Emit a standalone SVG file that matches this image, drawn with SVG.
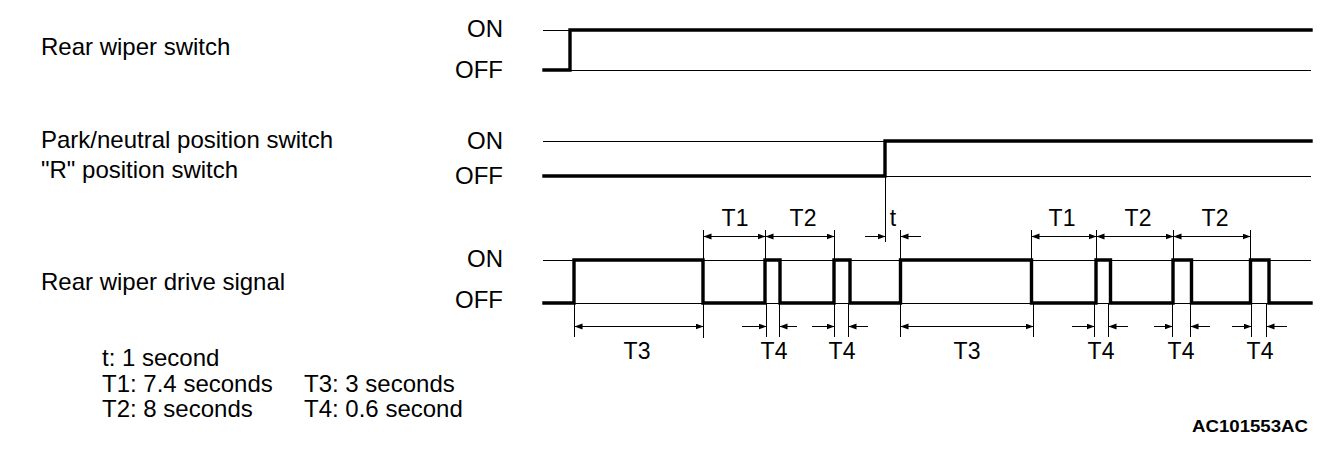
<svg xmlns="http://www.w3.org/2000/svg" width="1344" height="474" viewBox="0 0 1344 474">
<style>
text{font-family:"Liberation Sans",Arial,sans-serif;fill:#000}
.lbl{font-size:24px}
.lv{font-size:24px;text-anchor:end}
.dim{font-size:23px;text-anchor:middle}
.thin{stroke:#000;stroke-width:1;fill:none}
.thick{stroke:#000;stroke-width:3.4;fill:none;stroke-linejoin:miter;stroke-linecap:square}
.arr{stroke:#000;stroke-width:1;fill:none;marker-end:url(#ah)}
.arr2{stroke:#000;stroke-width:1;fill:none;marker-start:url(#ah);marker-end:url(#ah)}
</style>
<defs>
<marker id="ah" markerUnits="userSpaceOnUse" markerWidth="10" markerHeight="8" refX="8" refY="3" orient="auto-start-reverse">
<path d="M0,0 L8,3 L0,6 z" fill="#000"/>
</marker>
</defs>
<rect width="1344" height="474" fill="#fff"/>

<g id="rear-wiper-switch">
<text class="lbl" x="41" y="55">Rear wiper switch</text>
<text class="lv" x="503" y="37">ON</text>
<text class="lv" x="503" y="78">OFF</text>
<line class="thin" x1="543" y1="30.5" x2="1311" y2="30.5"/>
<line class="thin" x1="543" y1="70.5" x2="1311" y2="70.5"/>
<polyline class="thick" points="544,70 570,70 570,30 1311,30"/>
</g>

<g id="park-neutral-switch">
<text class="lbl" x="41" y="148">Park/neutral position switch</text>
<text class="lbl" x="41" y="178">"R" position switch</text>
<text class="lv" x="503" y="149">ON</text>
<text class="lv" x="503" y="184">OFF</text>
<line class="thin" x1="543" y1="141.5" x2="1311" y2="141.5"/>
<line class="thin" x1="543" y1="176.5" x2="1311" y2="176.5"/>
<polyline class="thick" points="544,176 885,176 885,141 1311,141"/>
</g>

<g id="rear-wiper-drive-signal">
<text class="lbl" x="41" y="290">Rear wiper drive signal</text>
<text class="lv" x="503" y="267">ON</text>
<text class="lv" x="503" y="308">OFF</text>
<line class="thin" x1="543" y1="260.5" x2="1311" y2="260.5"/>
<line class="thin" x1="543" y1="303.5" x2="1311" y2="303.5"/>
<polyline class="thick" points="544,303 574,303 574,260 703,260 703,303 765,303 765,260 780,260 780,303 834,303 834,260 850,260 850,303 900.5,303 900.5,260 1031.5,260 1031.5,303 1096,303 1096,260 1110.5,260 1110.5,303 1173,303 1173,260 1191.5,260 1191.5,303 1250.5,303 1250.5,260 1269,260 1269,303 1311,303"/>
</g>

<g id="connectors">
<!-- extension lines -->
<line class="thin" x1="885.5" y1="176" x2="885.5" y2="242"/>
<line class="thin" x1="703.5" y1="230" x2="703.5" y2="260"/>
<line class="thin" x1="765.5" y1="230" x2="765.5" y2="260"/>
<line class="thin" x1="834.5" y1="230" x2="834.5" y2="260"/>
<line class="thin" x1="900.5" y1="230" x2="900.5" y2="337"/>
<line class="thin" x1="1031.5" y1="230" x2="1031.5" y2="260"/>
<line class="thin" x1="1096.5" y1="230" x2="1096.5" y2="260"/>
<line class="thin" x1="1173.5" y1="230" x2="1173.5" y2="260"/>
<line class="thin" x1="1250.5" y1="230" x2="1250.5" y2="260"/>
<line class="thin" x1="574.5" y1="303" x2="574.5" y2="337"/>
<line class="thin" x1="703.5" y1="303" x2="703.5" y2="338"/>
<line class="thin" x1="766.5" y1="303" x2="766.5" y2="337"/>
<line class="thin" x1="779.5" y1="303" x2="779.5" y2="337"/>
<line class="thin" x1="834.5" y1="303" x2="834.5" y2="337"/>
<line class="thin" x1="848.5" y1="303" x2="848.5" y2="337"/>
<line class="thin" x1="1033.5" y1="303" x2="1033.5" y2="337"/>
<line class="thin" x1="1094.5" y1="303" x2="1094.5" y2="337"/>
<line class="thin" x1="1108.5" y1="303" x2="1108.5" y2="337"/>
<line class="thin" x1="1172.5" y1="303" x2="1172.5" y2="337"/>
<line class="thin" x1="1190.5" y1="303" x2="1190.5" y2="337"/>
<line class="thin" x1="1251.5" y1="303" x2="1251.5" y2="337"/>
<line class="thin" x1="1266.5" y1="303" x2="1266.5" y2="337"/>
<!-- upper dimensions -->
<line class="arr2" x1="703.5" y1="236.5" x2="765.5" y2="236.5"/>
<line class="arr2" x1="765.5" y1="236.5" x2="834.5" y2="236.5"/>
<line class="arr" x1="865" y1="236.5" x2="885.5" y2="236.5"/>
<line class="arr" x1="921" y1="236.5" x2="900.5" y2="236.5"/>
<line class="arr2" x1="1031.5" y1="236.5" x2="1096.5" y2="236.5"/>
<line class="arr2" x1="1096.5" y1="236.5" x2="1173.5" y2="236.5"/>
<line class="arr2" x1="1173.5" y1="236.5" x2="1250.5" y2="236.5"/>
<!-- lower dimensions -->
<line class="arr2" x1="574.5" y1="326.5" x2="703.5" y2="326.5"/>
<line class="arr2" x1="900.5" y1="326.5" x2="1033.5" y2="326.5"/>
<line class="arr" x1="742" y1="326.5" x2="766.5" y2="326.5"/>
<line class="arr" x1="797" y1="326.5" x2="779.5" y2="326.5"/>
<line class="arr" x1="812" y1="326.5" x2="834.5" y2="326.5"/>
<line class="arr" x1="868" y1="326.5" x2="848.5" y2="326.5"/>
<line class="arr" x1="1072" y1="326.5" x2="1094.5" y2="326.5"/>
<line class="arr" x1="1128" y1="326.5" x2="1108.5" y2="326.5"/>
<line class="arr" x1="1154" y1="326.5" x2="1172.5" y2="326.5"/>
<line class="arr" x1="1210" y1="326.5" x2="1190.5" y2="326.5"/>
<line class="arr" x1="1232" y1="326.5" x2="1251.5" y2="326.5"/>
<line class="arr" x1="1287" y1="326.5" x2="1266.5" y2="326.5"/>
</g>

<g id="dimension-labels">
<text class="dim" x="735" y="226">T1</text>
<text class="dim" x="803" y="226">T2</text>
<text class="dim" x="893" y="226">t</text>
<text class="dim" x="1062" y="226">T1</text>
<text class="dim" x="1138" y="226">T2</text>
<text class="dim" x="1215" y="226">T2</text>
<text class="dim" x="637" y="359">T3</text>
<text class="dim" x="774" y="359">T4</text>
<text class="dim" x="842" y="359">T4</text>
<text class="dim" x="967" y="359">T3</text>
<text class="dim" x="1101" y="359">T4</text>
<text class="dim" x="1181" y="359">T4</text>
<text class="dim" x="1260" y="359">T4</text>
</g>

<g id="legend">
<text class="lbl" x="102" y="366">t: 1 second</text>
<text class="lbl" x="102" y="392">T1: 7.4 seconds</text>
<text class="lbl" x="102" y="417">T2: 8 seconds</text>
<text class="lbl" x="304" y="392">T3: 3 seconds</text>
<text class="lbl" x="304" y="417">T4: 0.6 second</text>
</g>

<text x="1192" y="432" font-size="17" font-weight="bold" textLength="116" lengthAdjust="spacingAndGlyphs">AC101553AC</text>
</svg>
